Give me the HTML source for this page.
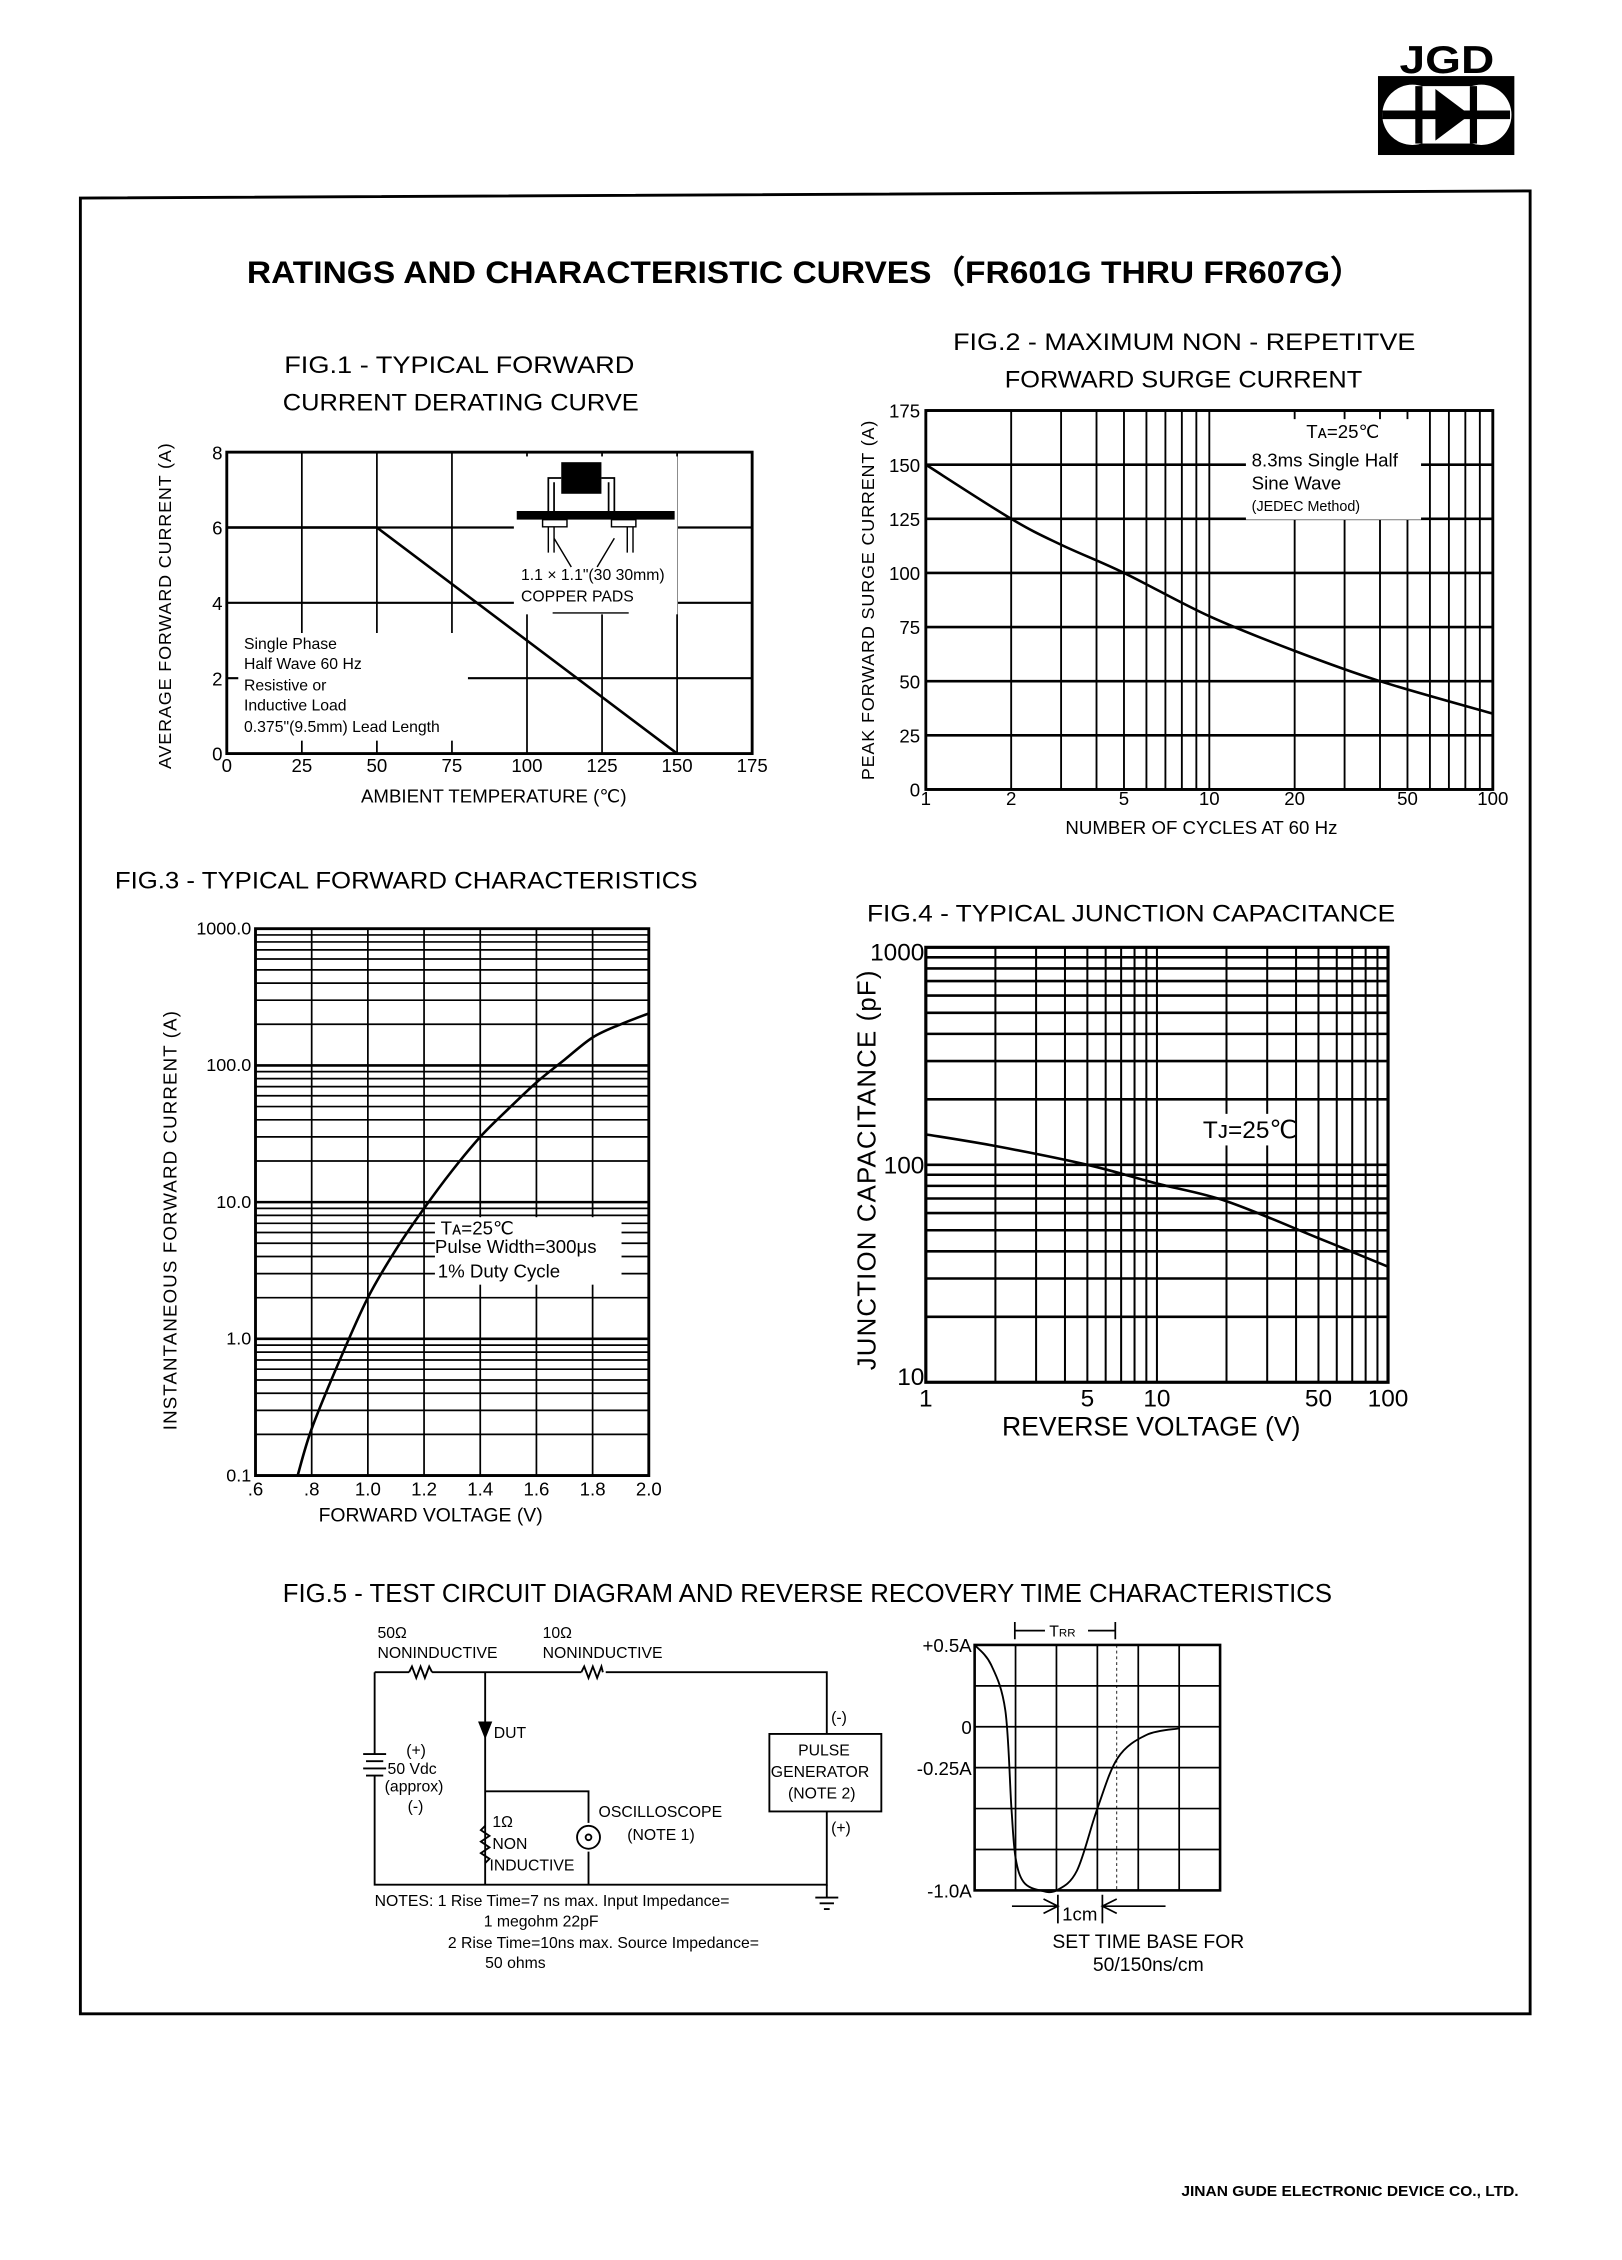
<!DOCTYPE html>
<html><head><meta charset="utf-8">
<style>
html,body{margin:0;padding:0;background:#fff;}
svg{display:block;}
text{font-family:"Liberation Sans",sans-serif;fill:#000;}
</style></head>
<body>
<svg id="page" xmlns="http://www.w3.org/2000/svg" width="1622" height="2260" viewBox="0 0 1130 1574.5" preserveAspectRatio="none">
<rect x="0" y="0" width="1130" height="1575" fill="#fff"/>
<g>
<text x="975" y="51" font-size="27" font-weight="bold" textLength="66" lengthAdjust="spacingAndGlyphs">JGD</text>
<rect x="960" y="53" width="95" height="55" fill="#000"/>
<circle cx="984" cy="80" r="21" fill="#fff"/><circle cx="1032" cy="80" r="21" fill="#fff"/>
<rect x="984" y="60" width="48" height="40" fill="#fff"/>
<line x1="963" y1="80" x2="1052" y2="80" stroke="#000" stroke-width="6"/>
<polygon points="1000,62 1000,98 1024,80" fill="#000"/>
<rect x="1024" y="60" width="5" height="40" fill="#000"/>
<rect x="986" y="60" width="5" height="40" fill="#000"/>
</g>
<path d="M56,138 L1066,133 L1066,1403 L56,1403 Z" fill="none" stroke="#000" stroke-width="2"/>
<text x="172" y="197" font-size="22" font-weight="bold" textLength="778" lengthAdjust="spacingAndGlyphs">RATINGS AND CHARACTERISTIC CURVES（FR601G THRU FR607G）</text>

<!-- FIG 1 -->
<text x="198" y="260" font-size="17" textLength="244" lengthAdjust="spacingAndGlyphs">FIG.1 -  TYPICAL FORWARD</text>
<text x="197" y="286" font-size="17" textLength="248" lengthAdjust="spacingAndGlyphs">CURRENT DERATING CURVE</text>
<g id="fig1"></g>
<text transform="translate(119,422) rotate(-90)" text-anchor="middle" font-size="12.5" letter-spacing="0.6">AVERAGE FORWARD CURRENT (A)</text>
<text x="344" y="559" text-anchor="middle" font-size="13">AMBIENT TEMPERATURE (℃)</text>

<!-- FIG 2 -->
<text x="664" y="244" font-size="17" textLength="322" lengthAdjust="spacingAndGlyphs">FIG.2 - MAXIMUM NON - REPETITVE</text>
<text x="700" y="270" font-size="17" textLength="249" lengthAdjust="spacingAndGlyphs">FORWARD SURGE CURRENT</text>
<g id="fig2"></g>
<text transform="translate(609,418) rotate(-90)" text-anchor="middle" font-size="12.5" letter-spacing="0.6">PEAK FORWARD SURGE CURRENT (A)</text>
<text x="837" y="581" text-anchor="middle" font-size="13">NUMBER OF CYCLES AT 60 Hz</text>

<!-- FIG 3 -->
<text x="80" y="619" font-size="17" textLength="406" lengthAdjust="spacingAndGlyphs">FIG.3 - TYPICAL FORWARD CHARACTERISTICS</text>
<g id="fig3"></g>
<text transform="translate(123,850) rotate(-90)" text-anchor="middle" font-size="13" letter-spacing="0.8">INSTANTANEOUS FORWARD CURRENT (A)</text>
<text x="300" y="1060" text-anchor="middle" font-size="13.5">FORWARD VOLTAGE (V)</text>

<!-- FIG 4 -->
<text x="604" y="642" font-size="17" textLength="368" lengthAdjust="spacingAndGlyphs">FIG.4 - TYPICAL JUNCTION CAPACITANCE</text>
<g id="fig4"></g>
<text transform="translate(610,815) rotate(-90)" text-anchor="middle" font-size="18" letter-spacing="0.8">JUNCTION CAPACITANCE  (pF)</text>
<text x="802" y="1000" text-anchor="middle" font-size="18.5">REVERSE VOLTAGE  (V)</text>

<!-- FIG 5 -->
<text x="197" y="1116" font-size="18" textLength="731" lengthAdjust="spacingAndGlyphs">FIG.5 - TEST CIRCUIT DIAGRAM AND REVERSE RECOVERY TIME CHARACTERISTICS</text>
<g stroke="#000" stroke-width="1.3" fill="none">
<path d="M261,1165 L285,1165 M301,1165 L405,1165 M422,1165 L576,1165 L576,1208 M576,1262 L576,1313 L261,1313 L261,1237 M261,1222 L261,1165"/>
<path d="M285,1165 l2,-4 l3,8 l3,-8 l3,8 l3,-8 l2,4"/>
<path d="M405,1165 l2,-4 l3,8 l3,-8 l3,8 l3,-8 l1,4"/>
<path d="M253,1222 L269,1222 M255,1227 L267,1227 M253,1232 L269,1232 M255,1237 L267,1237"/>
<path d="M338,1165 L338,1313 M338,1248 L410,1248 L410,1270 M410,1290 L410,1313"/>
<path d="M338,1272 l-3,3 l6,4 l-6,4 l6,4 l-6,4 l6,4 l-3,3"/>
<circle cx="410" cy="1280" r="8"/><circle cx="410" cy="1280" r="2"/>
<rect x="536" y="1208" width="78" height="54"/>
<path d="M576,1313 L576,1322 M568,1322 L584,1322 M571,1326 L581,1326 M574,1330 L578,1330"/>
<polygon points="334,1200 342,1200 338,1210" fill="#000"/>
</g>
<g font-size="11">
<text x="263" y="1141">50Ω</text><text x="263" y="1155">NONINDUCTIVE</text>
<text x="378" y="1141">10Ω</text><text x="378" y="1155">NONINDUCTIVE</text>
<text x="344" y="1211">DUT</text>
<text x="283" y="1223">(+)</text><text x="270" y="1236">50 Vdc</text><text x="268" y="1248">(approx)</text><text x="284" y="1262">(-)</text>
<text x="343" y="1273">1Ω</text><text x="343" y="1288">NON</text><text x="341" y="1303">INDUCTIVE</text>
<text x="417" y="1266">OSCILLOSCOPE</text><text x="437" y="1282">(NOTE 1)</text>
<text x="579" y="1200">(-)</text><text x="579" y="1277">(+)</text>
<text x="556" y="1223">PULSE</text><text x="537" y="1238">GENERATOR</text><text x="549" y="1253">(NOTE 2)</text>
<text x="261" y="1328">NOTES:  1 Rise Time=7 ns max. Input Impedance=</text>
<text x="337" y="1342">1 megohm 22pF</text>
<text x="312" y="1357">2  Rise Time=10ns max. Source Impedance=</text>
<text x="338" y="1371">50 ohms</text>
</g>
<g id="fig5"></g>
<g stroke="#000" stroke-width="1.2" fill="none">
<path d="M707,1130 L707,1142 M777,1130 L777,1142 M707,1136 L728,1136 M758,1136 L777,1136"/>
<path d="M727,1323 L737,1328 L727,1333 M737,1320 L737,1340 M778,1323 L768,1328 L778,1333 M768,1320 L768,1340 M705,1328 L737,1328 M768,1328 L812,1328"/>
</g>
<text x="731" y="1140" font-size="11">T<tspan font-size="8">RR</tspan></text>
<text x="740" y="1338" font-size="13">1cm</text>
<text x="800" y="1357" text-anchor="middle" font-size="13.5">SET TIME BASE FOR</text>
<text x="800" y="1373" text-anchor="middle" font-size="13.5">50/150ns/cm</text>

<text x="823" y="1530" font-size="10" font-weight="bold" textLength="235" lengthAdjust="spacingAndGlyphs">JINAN GUDE ELECTRONIC DEVICE CO., LTD.</text>
</svg>
<script>
// ---- data ----
const fig1Temps=[0,50,150];
const fig1Current=[6,6,0];
const fig1XTicks=[0,25,50,75,100,125,150,175];
const fig1YTicks=[0,2,4,6,8];

const fig2Cycles=[1,2,3,5,10,20,40,100];
const fig2Current=[150,125,113,100,80,64,50,35];
const fig2XTicks=[1,2,5,10,20,50,100];
const fig2YTicks=[0,25,50,75,100,125,150,175];

const fig3Volt=[0.75,0.8,0.9,1.0,1.1,1.2,1.3,1.4,1.5,1.6,1.7,1.8,1.9,2.0];
const fig3Amp=[0.1,0.22,0.7,2,4.5,9,17,30,48,75,110,160,200,240];
const fig3XTicks=[0.6,0.8,1.0,1.2,1.4,1.6,1.8,2.0];
const fig3XLabels=['.6','.8','1.0','1.2','1.4','1.6','1.8','2.0'];
const fig3YTicks=[0.1,1,10,100,1000];
const fig3YLabels=['0.1','1.0','10.0','100.0','1000.0'];

const fig4Volt=[1,2,5,10,20,50,100];
const fig4Cap=[138,122,100,82,68,46,34];
const fig4XTicks=[1,5,10,50,100];
const fig4YTicks=[10,100,1000];

const scopeTime=[0,0.4,0.75,0.9,1.0,1.2,1.6,2.0,2.5,3.0,3.5,4.2,5.0];
const scopeAmp=[0.5,0.38,0.1,-0.5,-0.8,-0.95,-1.0,-1.0,-0.88,-0.5,-0.19,-0.05,-0.01];
const scopeYTicks=[0.5,0,-0.25,-1.0];
const scopeYLabels=['+0.5A','0','-0.25A','-1.0A'];

const NS='http://www.w3.org/2000/svg';
function mk(tag,attrs,parent){const e=document.createElementNS(NS,tag);for(const k in attrs)e.setAttribute(k,attrs[k]);parent.appendChild(e);return e;}
function smooth(p){let d='M'+p[0][0]+','+p[0][1];for(let i=0;i<p.length-1;i++){const p0=p[i-1]||p[i],p1=p[i],p2=p[i+1],p3=p[i+2]||p2;d+=' C'+(p1[0]+(p2[0]-p0[0])/6)+','+(p1[1]+(p2[1]-p0[1])/6)+' '+(p2[0]-(p3[0]-p1[0])/6)+','+(p2[1]-(p3[1]-p1[1])/6)+' '+p2[0]+','+p2[1];}return d;}
const L10=Math.log10;

// ---- FIG 1 ----
(function(){
const g=document.getElementById('fig1');
const x=t=>158+t/175*366, y=v=>525-v/8*210;
fig1XTicks.forEach(t=>{const l=mk('line',{x1:x(t),x2:x(t),y1:315,y2:525,stroke:'#000','stroke-width':1.2},g);


const tx=mk('text',{x:x(t),y:538,'text-anchor':'middle','font-size':13},g);tx.textContent=t;

});
fig1YTicks.forEach(v=>{const l=mk('line',{x1:158,x2:524,y1:y(v),y2:y(v),stroke:'#000','stroke-width':1.5},g);


const tx=mk('text',{x:155,y:y(v)+5,'text-anchor':'end','font-size':13},g);tx.textContent=v;

});
mk('rect',{x:158,y:315,width:366,height:210,fill:'none',stroke:'#000','stroke-width':2},g);
mk('rect',{x:166,y:441,width:160,height:75,fill:'#fff'},g);
mk('rect',{x:358,y:318,width:114,height:110,fill:'#fff'},g);
const c=mk('polyline',{points:fig1Temps.map((t,i)=>x(t)+','+y(fig1Current[i])).join(' '),fill:'none',stroke:'#000','stroke-width':1.8},g);


// package inset
mk('rect',{x:391,y:322,width:28,height:22,fill:'#000'},g);
mk('path',{d:'M391,333 L382,333 L382,357 M419,333 L428,333 L428,357 M386,336 L386,357 M424,336 L424,357',stroke:'#000',fill:'none','stroke-width':1.2},g);
mk('rect',{x:360,y:356,width:110,height:6,fill:'#000'},g);
mk('path',{d:'M378,362 L395,362 L395,367 L378,367 Z M426,362 L443,362 L443,367 L426,367 Z M382,367 L382,385 M386,367 L386,385 M437,367 L437,385 M441,367 L441,385 M386,375 L398,395 M428,375 L416,395 M385,427 L438,427',stroke:'#000',fill:'none','stroke-width':1},g);
[['1.1 × 1.1"(30  30mm)',363,404],['COPPER PADS',363,419]].forEach(a=>{const t=mk('text',{x:a[1],y:a[2],'font-size':11},g);t.textContent=a[0];

});
[['Single Phase',452],['Half Wave 60 Hz',466],['Resistive or',481],['Inductive Load',495],['0.375"(9.5mm) Lead Length',510]].forEach(a=>{const t=mk('text',{x:170,y:a[1],'font-size':11},g);t.textContent=a[0];

});
})();

// ---- FIG 2 ----
(function(){
const g=document.getElementById('fig2');
const x=c=>645+L10(c)*197.5, y=v=>550-v/175*264;
for(let d=1;d<100;d*=10)for(let k=1;k<10;k++){const l=mk('line',{x1:x(d*k),x2:x(d*k),y1:286,y2:550,stroke:'#000','stroke-width':1.3},g);

}
fig2YTicks.forEach(v=>{const l=mk('line',{x1:645,x2:1040,y1:y(v),y2:y(v),stroke:'#000','stroke-width':1.8},g);


const t=mk('text',{x:641,y:y(v)+5,'text-anchor':'end','font-size':13},g);t.textContent=v;

});
fig2XTicks.forEach(c=>{const t=mk('text',{x:x(c),y:561,'text-anchor':'middle','font-size':13},g);t.textContent=c;

});
mk('rect',{x:645,y:286,width:395,height:264,fill:'none',stroke:'#000','stroke-width':2},g);
mk('rect',{x:868,y:292,width:122,height:70,fill:'#fff'},g);
const c=mk('path',{d:smooth(fig2Cycles.map((c,i)=>[x(c),y(fig2Current[i])])),fill:'none',stroke:'#000','stroke-width':1.8},g);


[['T\u1D00=25℃',910,305,13],['8.3ms Single Half',872,325,13],['Sine Wave',872,341,13],['(JEDEC Method)',872,356,10]].forEach(a=>{const t=mk('text',{x:a[1],y:a[2],'font-size':a[3]},g);t.textContent=a[0];

});
})();

// ---- FIG 3 ----
(function(){
const g=document.getElementById('fig3');
const x=v=>178+(v-0.6)/1.4*274, y=a=>1028-(L10(a)+1)*95.25;
for(let d=0.1;d<999;d*=10)for(let k=1;k<10;k++){const l=mk('line',{x1:178,x2:452,y1:y(d*k),y2:y(d*k),stroke:'#000','stroke-width':k==1?1.8:1.2},g);

}
fig3XTicks.forEach((v,i)=>{const l=mk('line',{x1:x(v),x2:x(v),y1:647,y2:1028,stroke:'#000','stroke-width':1.2},g);


const t=mk('text',{x:x(v),y:1042,'text-anchor':'middle','font-size':13},g);t.textContent=fig3XLabels[i];

});
fig3YTicks.forEach((a,i)=>{const t=mk('text',{x:175,y:y(a)+4,'text-anchor':'end','font-size':12.5},g);t.textContent=fig3YLabels[i];

});
mk('rect',{x:178,y:647,width:274,height:381,fill:'none',stroke:'#000','stroke-width':2},g);
mk('rect',{x:303,y:848,width:130,height:47,fill:'#fff'},g);
const c=mk('path',{d:smooth(fig3Volt.map((v,i)=>[x(v),y(fig3Amp[i])])),fill:'none',stroke:'#000','stroke-width':1.8},g);


[['T\u1D00=25℃',307,860],['Pulse Width=300μs',303,873],['1% Duty Cycle',305,890]].forEach(a=>{const t=mk('text',{x:a[1],y:a[2],'font-size':13},g);t.textContent=a[0];

});
})();

// ---- FIG 4 ----
(function(){
const g=document.getElementById('fig4');
const x=v=>645+L10(v)*161, y=c=>963-(L10(c)-1)*151.5;
for(let d=1;d<100;d*=10)for(let k=1;k<10;k++){const l=mk('line',{x1:x(d*k),x2:x(d*k),y1:660,y2:963,stroke:'#000','stroke-width':1.4},g);

}
for(let d=10;d<1000;d*=10)for(let k=1;k<10;k++){const l=mk('line',{x1:645,x2:967,y1:y(d*k),y2:y(d*k),stroke:'#000','stroke-width':1.8},g);

}
fig4XTicks.forEach(v=>{const t=mk('text',{x:x(v),y:980,'text-anchor':'middle','font-size':17},g);t.textContent=v;

});
fig4YTicks.forEach(c=>{const t=mk('text',{x:644,y:y(c)+(c==1000?9:c==10?2:6),'text-anchor':'end','font-size':17},g);t.textContent=c;

});
mk('rect',{x:645,y:660,width:322,height:303,fill:'none',stroke:'#000','stroke-width':2.2},g);
mk('rect',{x:835,y:776,width:62,height:22,fill:'#fff'},g);
const c=mk('path',{d:smooth(fig4Volt.map((v,i)=>[x(v),y(fig4Cap[i])])),fill:'none',stroke:'#000','stroke-width':1.8},g);


const t=mk('text',{x:838,y:793,'font-size':17},g);t.textContent='T\u1D0A=25℃';


})();

// ---- FIG 5 scope ----
(function(){
const g=document.getElementById('fig5');
const x=t=>679+t*28.5, y=a=>1203-a*114;
for(let k=0;k<=6;k++){const l=mk('line',{x1:x(k),x2:x(k),y1:1146,y2:1317,stroke:'#000','stroke-width':1.2},g);


const h=mk('line',{x1:679,x2:850,y1:1146+k*28.5,y2:1146+k*28.5,stroke:'#000','stroke-width':1.2},g);

}
mk('line',{x1:778,x2:778,y1:1146,y2:1317,stroke:'#000','stroke-width':0.6,'stroke-dasharray':'2,2'},g);
mk('rect',{x:679,y:1146,width:171,height:171,fill:'none',stroke:'#000','stroke-width':1.8},g);
scopeYTicks.forEach((a,i)=>{const t=mk('text',{x:677,y:y(a)+5,'text-anchor':'end','font-size':13},g);t.textContent=scopeYLabels[i];

});
const c=mk('path',{d:smooth(scopeTime.map((t,i)=>[x(t),y(scopeAmp[i])])),fill:'none',stroke:'#000','stroke-width':1.3},g);


})();
</script>
</body></html>
